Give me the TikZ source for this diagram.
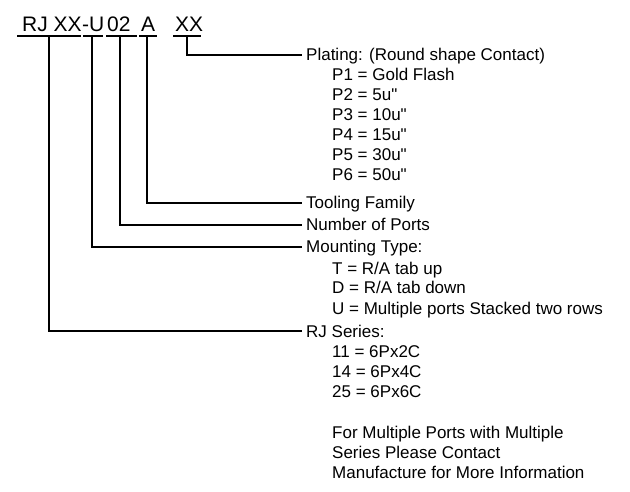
\documentclass[tikz,border=0pt]{standalone}
\usepackage{fontspec}
\setmainfont{Liberation Sans}[Ligatures=TeXOff]
\begin{document}
\begin{tikzpicture}[x=1pt,y=-1pt,
  ln/.style={line width=1.2pt},
  lab/.style={font=\fontsize{17}{20}\selectfont, inner sep=0pt, anchor=base west},
  head/.style={font=\fontsize{17}{20}\selectfont, inner xsep=4pt, inner ysep=0pt,
               text height=12pt, text depth=0pt, anchor=west},
  code/.style={font=\fontsize{21}{24}\selectfont, inner sep=0pt, anchor=base west}]
\useasboundingbox (0,0) rectangle (630,492);
% part number code
\node[code] (tRJ) at (22,32) {RJ XX};
\node[code] (tU)  at (82,32) {-U};
\node[code] (t02) at (107,32) {02};
\node[code] (tA)  at (141,32) {A};
\node[code] (tXX) at (175,32) {XX};
% underlines
\coordinate (uRJa) at (17,36);  \coordinate (uRJb) at (81,36);
\coordinate (uUa)  at (83,36);  \coordinate (uUb)  at (103,36);
\coordinate (u02a) at (106,36); \coordinate (u02b) at (137,36);
\coordinate (uAa)  at (139,36); \coordinate (uAb)  at (157,36);
\coordinate (uXXa) at (173,36); \coordinate (uXXb) at (201,36);
\draw[ln] (uRJa) -- (uRJb);
\draw[ln] (uUa) -- (uUb);
\draw[ln] (u02a) -- (u02b);
\draw[ln] (uAa) -- (uAb);
\draw[ln] (uXXa) -- (uXXb);
% connector start points
\coordinate (cRJ) at (49,36);
\coordinate (cU)  at (92,36);
\coordinate (c02) at (120,36);
\coordinate (cA)  at (147,36);
\coordinate (cXX) at (187,36);
% headings
\node[head] (plating)  at (302,55)  {Plating: (Round shape Contact)};
\node[head] (tooling)  at (302,203) {Tooling Family};
\node[head] (ports)    at (302,225) {Number of Ports};
\node[head] (mounting) at (302,247) {Mounting Type:};
\node[head] (series)   at (302,331) {RJ Series:};
% connectors
\draw[ln] (cXX) |- (plating.west);
\draw[ln] (cA)  |- (tooling.west);
\draw[ln] (c02) |- (ports.west);
\draw[ln] (cU)  |- (mounting.west);
\draw[ln] (cRJ) |- (series.west);
% plating options
\node[lab] (p1) at (332,81)  {P1 = Gold Flash};
\node[lab] (p2) at (332,101) {P2 = 5u"};
\node[lab] (p3) at (332,121) {P3 = 10u"};
\node[lab] (p4) at (332,141) {P4 = 15u"};
\node[lab] (p5) at (332,161) {P5 = 30u"};
\node[lab] (p6) at (332,181) {P6 = 50u"};
% mounting options
\node[lab] (mT) at (332,274) {T = R/A tab up};
\node[lab] (mD) at (332,294) {D = R/A tab down};
\node[lab] (mU) at (332,314) {U = Multiple ports Stacked two rows};
% series options
\node[lab] (s11) at (332,357) {11 = 6Px2C};
\node[lab] (s14) at (332,377) {14 = 6Px4C};
\node[lab] (s25) at (332,397) {25 = 6Px6C};
% note
\node[lab] (n1) at (332,438) {For Multiple Ports with Multiple};
\node[lab] (n2) at (332,458) {Series Please Contact};
\node[lab] (n3) at (332,478) {Manufacture for More Information};
\end{tikzpicture}
\end{document}
